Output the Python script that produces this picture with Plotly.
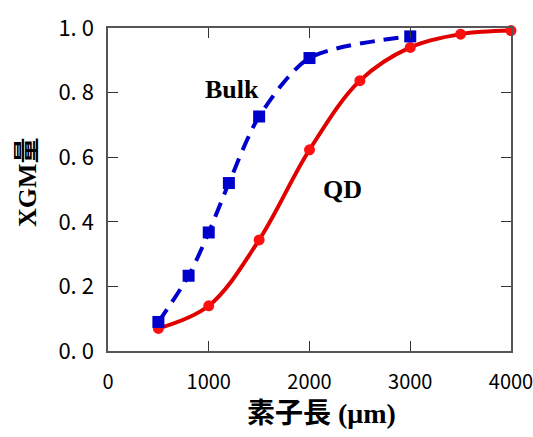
import plotly.graph_objects as go

bulk_x = [500, 800, 1000, 1200, 1500, 2000, 3000]
bulk_y = [0.09, 0.233, 0.367, 0.52, 0.726, 0.907, 0.974]
qd_x = [500, 1000, 1500, 2000, 2500, 3000, 3500, 4000]
qd_y = [0.07, 0.14, 0.344, 0.623, 0.837, 0.94, 0.981, 0.992]
xticks = [0, 1000, 2000, 3000, 4000]
yticks = [0.0, 0.2, 0.4, 0.6, 0.8, 1.0]
yticklabels = ["0. 0", "0. 2", "0. 4", "0. 6", "0. 8", "1. 0"]

fig = go.Figure()
fig.add_trace(go.Scatter(
    x=qd_x, y=qd_y, mode="lines+markers",
    line=dict(color="#E00000", width=4, shape="spline", smoothing=1.0),
    marker=dict(symbol="circle", size=11, color="#FF1010"),
    showlegend=False, cliponaxis=False))
fig.add_trace(go.Scatter(
    x=bulk_x, y=bulk_y, mode="lines+markers",
    line=dict(color="#0000CC", width=4, shape="spline", smoothing=0.8, dash="15px,9px"),
    marker=dict(symbol="square", size=12, color="#0000CC"),
    showlegend=False, cliponaxis=False))

fig.add_annotation(x=1230, y=0.81, text="<b>Bulk</b>", showarrow=False,
                   font=dict(family="Liberation Serif", size=26, color="black"))
fig.add_annotation(x=2330, y=0.50, text="<b>QD</b>", showarrow=False,
                   font=dict(family="Liberation Serif", size=26, color="black"))
# axis titles
fig.add_annotation(xref="paper", yref="paper", x=0.530, y=-0.192, text="<b>素子長 (μm)</b>",
                   showarrow=False, xanchor="center", yanchor="middle",
                   font=dict(family="Liberation Serif, Noto Sans CJK JP", size=28, color="black"))
fig.add_annotation(xref="paper", yref="paper", x=-0.201, y=0.523, text="<b>XGM量</b>",
                   showarrow=False, xanchor="center", yanchor="middle", textangle=-90,
                   font=dict(family="Liberation Serif, Noto Sans CJK JP", size=26, color="black"))

axis_common = dict(showline=True, linecolor="#555555", linewidth=1.5, mirror="ticks",
                   ticks="inside", ticklen=10, tickwidth=1.2, tickcolor="#333333",
                   showgrid=False, zeroline=False, ticklabeloverflow="allow",
                   automargin=False)
fig.update_xaxes(range=[0, 4000], tickvals=xticks, ticktext=[str(v) for v in xticks],
                 tickfont=dict(family="Noto Sans CJK JP", size=20, color="black"),
                 ticklabelstandoff=12, **axis_common)
fig.update_yaxes(range=[0, 1.0], tickvals=yticks, ticktext=yticklabels,
                 tickfont=dict(family="Noto Sans CJK JP", size=22, color="black"),
                 ticklabelstandoff=8, **axis_common)
fig.update_layout(width=533, height=437, margin=dict(l=108, r=22, t=28, b=86),
                  plot_bgcolor="white", paper_bgcolor="white")
fig.write_html("out.html")
